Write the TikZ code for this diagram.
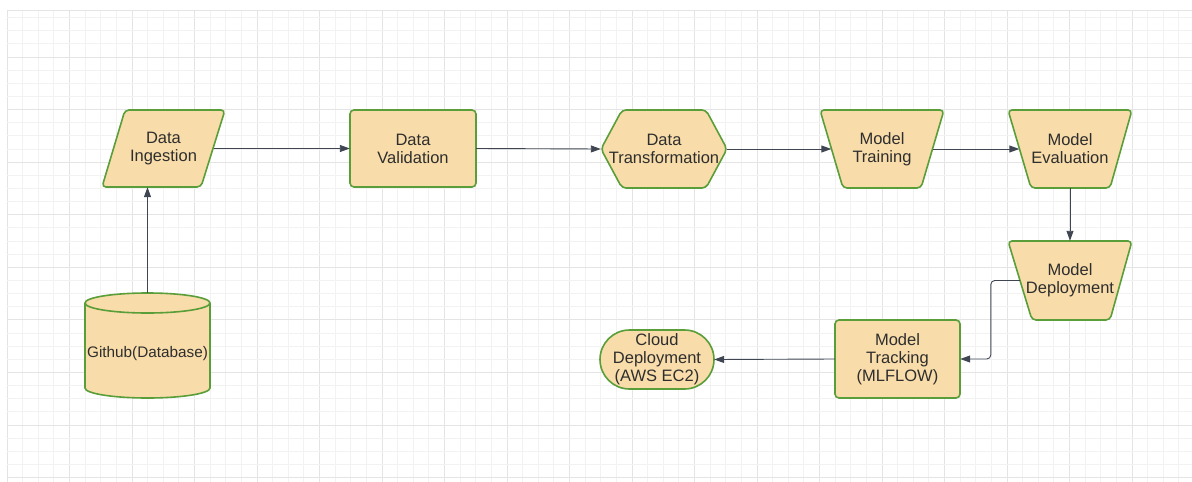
\documentclass[tikz,border=0pt]{standalone}
\usepackage{fontspec}
\setmainfont{Liberation Sans}
\usetikzlibrary{arrows.meta}
\definecolor{boxfill}{HTML}{F8DCA9}
\definecolor{boxline}{HTML}{5A9E3A}
\definecolor{arrowc}{HTML}{3F4652}
\definecolor{txt}{HTML}{2E2E2E}
\definecolor{gridminor}{HTML}{F2F2F2}
\definecolor{gridmajor}{HTML}{E4E4E4}
\tikzset{
  lbl/.style={draw=none,inner sep=0pt,align=center,text=txt,
    font=\fontsize{16.5}{18}\selectfont},
  shapebox/.style={fill=boxfill,draw=boxline,line width=1.6pt,rounded corners=4pt},
  conn/.style={draw=arrowc,line width=0.9pt,-{Triangle[length=10pt,width=7pt]}},
}
\begin{document}
\begin{tikzpicture}[x=1pt,y=-1pt]
\useasboundingbox (0,0) rectangle (1192,482);
% grid
\foreach \k in {0,...,75}{
  \pgfmathsetmacro{\xx}{7+15.625*\k}
  \pgfmathtruncatemacro{\m}{mod(\k,4)}
  \ifnum\m=0
    \draw[gridmajor,line width=0.8pt] (\xx,10) -- (\xx,482);
  \else
    \draw[gridminor,line width=0.8pt] (\xx,10) -- (\xx,482);
  \fi
}
\foreach \k in {-3,...,32}{
  \pgfmathsetmacro{\yy}{57+13.14*\k}
  \pgfmathtruncatemacro{\m}{mod(\k+12,4)}
  \ifdim\yy pt>10pt
  \ifnum\m=0
    \draw[gridmajor,line width=0.8pt] (7,\yy) -- (1192,\yy);
  \else
    \draw[gridminor,line width=0.8pt] (7,\yy) -- (1192,\yy);
  \fi
  \fi
}
\draw[gridmajor,line width=0.8pt] (7,10) -- (1192,10);

% shapes
\draw[shapebox] (125,110) -- (225,110) -- (201,187) -- (102,187) -- cycle;
\node[lbl,minimum width=100pt,minimum height=77pt] (ing) at (163.5,148.5) {Data\\Ingestion};

\draw[shapebox] (350,110) rectangle (476,187);
\node[lbl,minimum width=126pt,minimum height=77pt] (val) at (413,148.5) {Data\\Validation};

\draw[shapebox] (601,149) -- (622,110) -- (706,110) -- (727,149) -- (706,188) -- (622,188) -- cycle;
\node[lbl,minimum width=126pt,minimum height=78pt] (trf) at (664,149) {Data\\Transformation};

\draw[shapebox] (820,110) -- (944,110) -- (921,188) -- (843,188) -- cycle;
\node[lbl,minimum width=101pt,minimum height=78pt] (trn) at (882,149) {Model\\Training};

\draw[shapebox] (1008,110) -- (1132,110) -- (1110,188) -- (1031,188) -- cycle;
\node[lbl,minimum width=101pt,minimum height=78pt] (evl) at (1070,149) {Model\\Evaluation};

\draw[shapebox] (1008,241) -- (1132,241) -- (1110,320) -- (1032,320) -- cycle;
\node[lbl,minimum width=100pt,minimum height=79pt] (dep) at (1070,280.5) {Model\\Deployment};

\draw[shapebox] (835,320) rectangle (960,398);
\node[lbl,minimum width=125pt,minimum height=78pt] (trk) at (897.5,359) {Model\\Tracking\\(MLFLOW)};

\draw[fill=boxfill,draw=boxline,line width=1.6pt,rounded corners=29.5pt] (600,330) rectangle (714,389);
\node[lbl,minimum width=114pt,minimum height=59pt] (cld) at (657,359.5) {Cloud\\Deployment\\(AWS EC2)};

% cylinder
\draw[fill=boxfill,draw=boxline,line width=1.6pt]
  (85,303) -- (85,388) arc[start angle=180,end angle=360,x radius=62.5pt,y radius=10pt]
  -- (210,303) arc[start angle=0,end angle=180,x radius=62.5pt,y radius=10pt] -- cycle;
\draw[draw=boxline,line width=1.6pt] (85,303) arc[start angle=180,end angle=360,x radius=62.5pt,y radius=10pt];
\node[lbl,minimum width=125pt,minimum height=105pt] (git) at (147.5,345.5) {};
\node[lbl,font=\fontsize{15.3}{18}\selectfont] at (147.5,354) {Github(Database)};

% connectors
\draw[conn] (git.north) -- (git.north |- ing.south);
\draw[conn] (ing.east) -- (val.west);
\draw[conn] (val.east) -- (trf.west);
\draw[conn] (trf.east) -- (trn.west);
\draw[conn] (trn.east) -- (evl.west);
\draw[conn] (evl.south) -- (dep.north);
\draw[conn,rounded corners=4pt] (dep.west) -- ++(-29,0) |- (trk.east);
\draw[conn] (trk.west) -- (cld.east);
\end{tikzpicture}
\end{document}
